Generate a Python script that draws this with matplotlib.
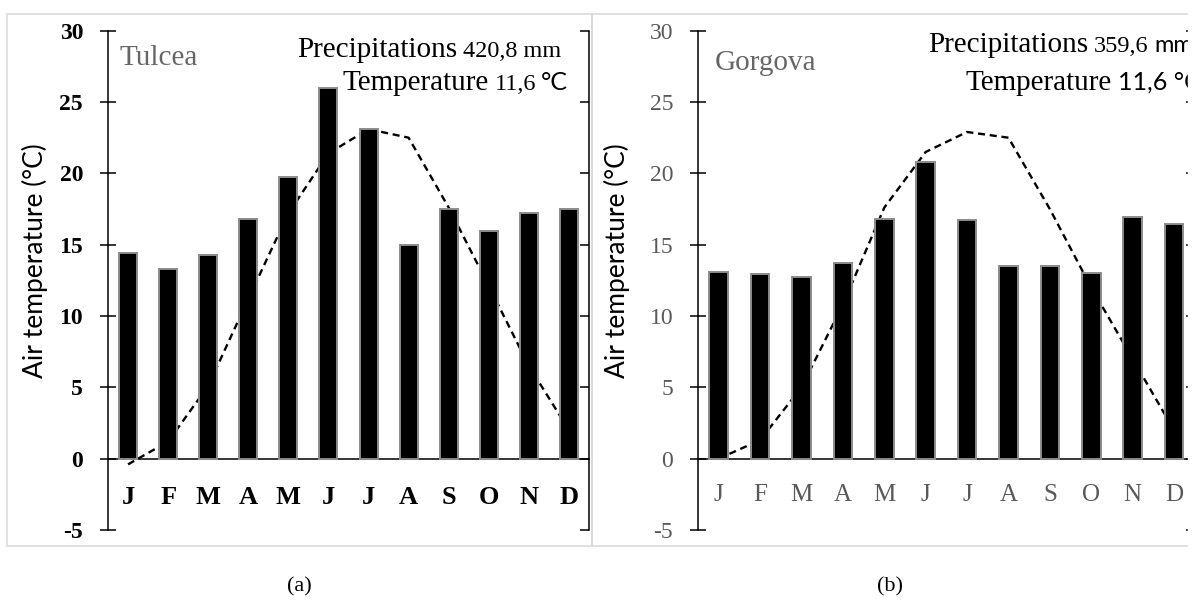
import matplotlib
matplotlib.use("Agg")
import matplotlib.pyplot as plt
from matplotlib.patches import Rectangle

months = ["J", "F", "M", "A", "M", "J", "J", "A", "S", "O", "N", "D"]

# Tulcea: mean air temperature (°C) and precipitation (mm)
tulcea_temp = [-0.4, 1.2, 5.1, 11.2, 17.2, 21.4, 23.1, 22.5, 17.6, 12.1, 6.5, 2.0]
tulcea_prec = [28.9, 26.6, 28.6, 33.6, 39.5, 51.9, 46.2, 29.9, 35.0, 31.9, 34.5, 35.0]

# Gorgova
gorgova_temp = [0.0, 1.3, 5.0, 10.8, 17.6, 21.5, 22.9, 22.5, 17.5, 12.0, 7.0, 2.0]
gorgova_prec = [26.2, 25.9, 25.5, 27.4, 33.6, 41.6, 33.5, 27.0, 27.0, 26.1, 33.9, 32.9]

W, H = 1192, 601
SERIF = "Liberation Serif"
SANS = "Lato"
GREY = "#595959"

fig = plt.figure(figsize=(W / 100, H / 100), dpi=100)
renderer = fig.canvas.get_renderer()


def px_box(x0, y0, x1, y1):
    # pixel box, origin top-left -> figure fraction
    return [x0 / W, 1 - y1 / H, (x1 - x0) / W, (y1 - y0) / H]


def chain_text(x, y, pieces):
    # pieces: (text, family, size, gap after in px)
    for s, family, size, gap in pieces:
        t = fig.text(x, H - y, s, transform=None, fontfamily=family,
                     fontsize=size, color="black", va="baseline", ha="left")
        x = t.get_window_extent(renderer).x1 + gap


def draw_panel(x0, x1, temps, precs, bold, tick_color, xpad, label_x):
    ax = fig.add_axes(px_box(x0, 30.7, x1, 530))
    ax2 = ax.twinx()
    xs = list(range(len(months)))

    # spines first: moving a spine resets the ticks
    for side in ["top", "right"]:
        ax.spines[side].set_visible(False)
    ax.spines["bottom"].set_position(("data", 0))
    ax.spines["bottom"].set_linewidth(1.1)
    ax.spines["left"].set_linewidth(1.1)
    for side in ["top", "left", "bottom"]:
        ax2.spines[side].set_visible(False)
    ax2.spines["right"].set_linewidth(1.1)

    ax.plot(xs, temps, color="black", lw=1.7, ls=(0, (3, 2)))
    ax2.bar(xs, precs, width=0.45, color="black", edgecolor="#8c8c8c", linewidth=1.4)

    ax.set_xlim(-0.5, 11.5)
    ax.set_ylim(-5, 30)
    ax2.set_ylim(-10, 60)

    weight = "bold" if bold else "normal"
    ax.tick_params(axis="y", direction="inout", length=11.5, width=1.1, pad=12.2)
    ax.tick_params(axis="x", length=0, pad=xpad)
    ax.set_yticks(range(-5, 31, 5), [str(v) for v in range(-5, 31, 5)],
                  fontfamily=SERIF, fontsize=17, fontweight=weight, color=tick_color)
    ax.set_xticks(xs, months, fontfamily=SERIF, fontsize=19 if bold else 18,
                  fontweight=weight, color=tick_color)

    ax2.set_yticks(range(-10, 61, 10))
    ax2.tick_params(axis="y", direction="in", length=6.5, width=1.1, labelright=False)

    ax.set_ylabel("Air temperature (°C)", fontfamily=SANS, fontsize=19)
    ax.yaxis.set_label_coords(label_x, 0.539)
    return ax


draw_panel(108, 589, tulcea_temp, tulcea_prec, True, "black", 19.5, -0.125)
draw_panel(698, 1194.7, gorgova_temp, gorgova_prec, False, GREY, 18, -0.137)

# station names
fig.text(120, H - 65, "Tulcea", transform=None, fontfamily=SERIF, fontsize=21,
         color="#666666", va="baseline")
fig.text(714.5, H - 70, "Gorgova", transform=None, fontfamily=SERIF, fontsize=21,
         color="#666666", va="baseline")

# totals
chain_text(297, 57, [("Precipitations", SERIF, 21, 6), ("420,8 mm", SERIF, 17.5, 0)])
chain_text(342.5, 90, [("Temperature", SERIF, 21, 6), ("11,6", SERIF, 17.5, 5),
                       ("°C", SANS, 18, 0)])
chain_text(928, 52, [("Precipitations", SERIF, 21, 6), ("359,6", SERIF, 17.5, 6),
                     ("mm", SANS, 17, 0)])
chain_text(965, 90, [("Temperature", SERIF, 21, 7), ("11,6 °C", SANS, 18, 0)])

# panel frames
fig.add_artist(Rectangle((7 / W, 1 - 546 / H), 585 / W, 532 / H, fill=False,
                         edgecolor="#d9d9d9", lw=1.1, transform=fig.transFigure))
fig.add_artist(Rectangle((592 / W, 1 - 546 / H), 620 / W, 532 / H, fill=False,
                         edgecolor="#d9d9d9", lw=1.1, transform=fig.transFigure))
# source picture was cropped on the right
fig.add_artist(Rectangle((1188 / W, 0), 1, 1, color="white", zorder=10,
                         transform=fig.transFigure))

fig.text(299.5 / W, 1 - 587 / H, "(a)", fontfamily=SERIF, fontsize=16,
         ha="center", va="center")
fig.text(889.5 / W, 1 - 587 / H, "(b)", fontfamily=SERIF, fontsize=16,
         ha="center", va="center")

fig.savefig("out.png", dpi=100)
